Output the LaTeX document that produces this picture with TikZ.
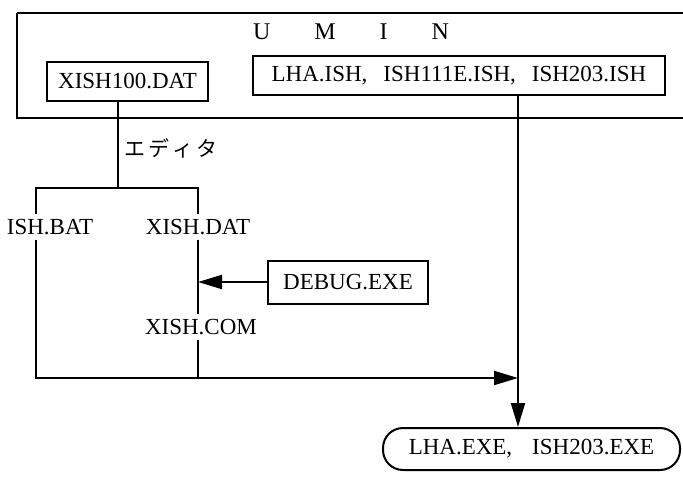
\documentclass[tikz,border=0pt]{standalone}
\usepackage{fontspec}
\setmainfont{Liberation Serif}
\newfontfamily\jpfont{Noto Sans CJK JP}
\usetikzlibrary{arrows.meta}
\begin{document}
\begin{tikzpicture}[x=1pt,y=-1pt,
  every node/.style={font=\fontsize{23}{27}\selectfont, inner sep=2pt},
  box/.style={draw, line width=2pt, inner sep=0pt},
  wire/.style={line width=2pt},
  arr/.style={line width=2pt, -{Triangle[length=24pt,width=14pt]}}]
\useasboundingbox (0,0) rectangle (683,479);
% outer UMIN box
\draw[line width=1.8pt] (17,13) -- (700,13) (17,13) -- (17,118) -- (700,118);
\node (umin) at (351,32) {\fontsize{24}{28}\selectfont U\hspace{44pt}M\hspace{44pt}I\hspace{44pt}N};
\node[box, minimum width=161pt, minimum height=39pt] (x100) at (127.5,81.5) {XISH100.DAT};
\node[box, minimum width=412pt, minimum height=39pt] (lha) at (459,75.5) {LHA.ISH,\hspace{16pt}ISH111E.ISH,\hspace{16pt}ISH203.ISH};
% editor branch
\coordinate (jtop) at (118,188);
\coordinate (jl) at (36,188);
\coordinate (jr) at (198,188);
\node[anchor=west] (ed) at (122,148) {\jpfont\fontsize{21}{24}\selectfont エ\hspace{3pt}デ\hspace{3pt}ィ\hspace{3pt}タ};
\draw[wire] (x100.south -| jtop) -- (jtop);
\node[inner sep=5pt] (bat) at (50,227) {ISH.BAT};
\node[inner sep=5pt] (xdat) at (198,227) {XISH.DAT};
\node[inner sep=5pt] (xcom) at (201,327) {XISH.COM};
\draw[wire] (jl |- bat.north) -- (jl) -- (jr) -- (jr |- xdat.north);
\draw[wire] (xdat.south) -- (xdat.south |- xcom.north);
\node[box, minimum width=160pt, minimum height=43pt] (dbg) at (348,282) {DEBUG.EXE};
\draw[arr] (dbg.west) -- (dbg.west -| xdat.south);
% bottom merge
\coordinate (meet) at (518,378);
\draw[wire] (xcom.south -| jr) -- (jr |- meet);
\draw[arr] (jl |- bat.south) -- (jl |- meet) -- (meet);
\node[draw, line width=2pt, rounded corners=20pt, minimum width=297pt, minimum height=42pt] (exe) at (531.5,449) {LHA.EXE,\hspace{20pt}ISH203.EXE};
\draw[arr] (lha.south -| meet) -- (meet |- exe.north);
\end{tikzpicture}
\end{document}
